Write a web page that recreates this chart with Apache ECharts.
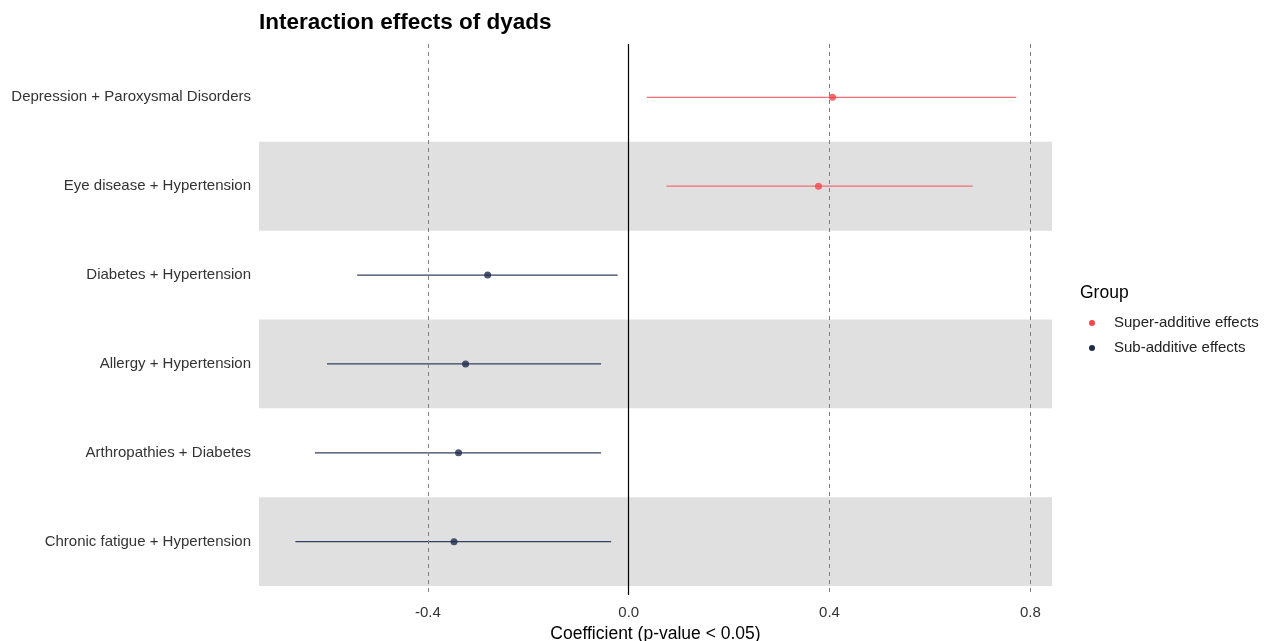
<!DOCTYPE html>
<html><head><meta charset="utf-8">
<script src="https://cdn.jsdelivr.net/npm/echarts@6/dist/echarts.min.js"></script>
<style>html,body{margin:0;padding:0;background:#fff}#c{width:1265px;height:641px}</style>
</head><body><div id="c"></div>
<script>
// Top to bottom
const categories = ["Depression + Paroxysmal Disorders","Eye disease + Hypertension","Diabetes + Hypertension","Allergy + Hypertension","Arthropathies + Diabetes","Chronic fatigue + Hypertension"];
const groups = ["Super-additive effects","Super-additive effects","Sub-additive effects","Sub-additive effects","Sub-additive effects","Sub-additive effects"];
const estimates = [0.406, 0.378, -0.281, -0.325, -0.339, -0.348];
const lower = [0.036, 0.075, -0.541, -0.601, -0.625, -0.664];
const upper = [0.772, 0.685, -0.022, -0.055, -0.055, -0.035];
const xTicks = [-0.4, 0.0, 0.4, 0.8];
const groupNames = ["Super-additive effects","Sub-additive effects"];
const groupPointColors = ["#F8434B","#1E2B4D"];
const groupLineColors = ["#F26E72","#354062"];

const positions = categories.map((c,i)=>i+1);
const FONT = "'Liberation Sans', Arial, sans-serif";

const series = [];
// background bands
series.push({
  type:'scatter', data:[], silent:true, z:0,
  markArea:{silent:true, itemStyle:{color:'#E0E0E0'},
    data: positions.filter(p=>p%2===0).map(p=>[{yAxis:p-0.5},{yAxis:p+0.5}])}
});
// reference lines
series.push({
  type:'scatter', data:[], silent:true, z:1,
  markLine:{silent:true, symbol:'none', label:{show:false},
    data: xTicks.map(v=> v===0
      ? {xAxis:v, lineStyle:{color:'#000', type:'solid', width:1.2}}
      : {xAxis:v, lineStyle:{color:'#7f7f7f', type:[4,4], width:1}})}
});
groupNames.forEach((g,gi)=>{
  const idx = categories.map((c,i)=>i).filter(i=>groups[i]===g);
  series.push({
    name:g, type:'custom', z:2,
    itemStyle:{color:groupPointColors[gi]},
    data: idx.map(i=>[lower[i], upper[i], positions[i]]),
    renderItem:(params, api)=>{
      const a = api.coord([api.value(0), api.value(2)]);
      const b = api.coord([api.value(1), api.value(2)]);
      return {type:'line', shape:{x1:a[0],y1:a[1],x2:b[0],y2:b[1]},
        style:{stroke:groupLineColors[gi], lineWidth:1.2}};
    },
    encode:{x:[0,1], y:2}
  });
  series.push({
    name:g, type:'scatter', z:3, symbol:'circle', symbolSize:7,
    itemStyle:{color:groupPointColors[gi]},
    data: idx.map(i=>[estimates[i], positions[i]])
  });
});

const chart = echarts.init(document.getElementById('c'));
chart.setOption({
  animation:false,
  backgroundColor:'#fff',
  title:[
    {text:'Interaction effects of dyads', left:259, top:11, padding:0,
     textStyle:{fontFamily:FONT, fontSize:22.5, fontWeight:'bold', color:'#000'}},
    {text:'Group', left:1080, top:284, padding:0,
     textStyle:{fontFamily:FONT, fontSize:17.5, fontWeight:'normal', color:'#000'}}
  ],
  legend:{
    data: groupNames, orient:'vertical', left:1089, top:315, padding:0,
    itemWidth:6, itemHeight:6, itemGap:9, icon:'circle',
    textStyle:{fontFamily:FONT, fontSize:15, color:'#222', lineHeight:16, padding:[0,0,0,14]}
  },
  grid:{left:259, right:213, top:44, bottom:46, outerBoundsMode:'none', containLabel:false},
  xAxis:{
    type:'value', min:-0.7365, max:0.8432,
    name:'Coefficient (p-value < 0.05)', nameLocation:'middle', nameGap:29,
    nameTextStyle:{fontFamily:FONT, fontSize:17.5, color:'#000'},
    axisLine:{show:false}, axisTick:{show:false}, splitLine:{show:false},
    axisLabel:{customValues:xTicks, fontFamily:FONT, fontSize:15, color:'#333', margin:10,
      formatter:v=>v.toFixed(1)}
  },
  yAxis:{
    type:'value', min:0.4, max:6.6, inverse:true,
    axisLine:{show:false}, axisTick:{show:false}, splitLine:{show:false},
    axisLabel:{customValues:positions, fontFamily:FONT, fontSize:15, color:'#333', margin:8,
      padding:[3,0,0,0],
      formatter:v=>categories[Math.round(v)-1] || ''}
  },
  series: series
});
</script></body></html>
